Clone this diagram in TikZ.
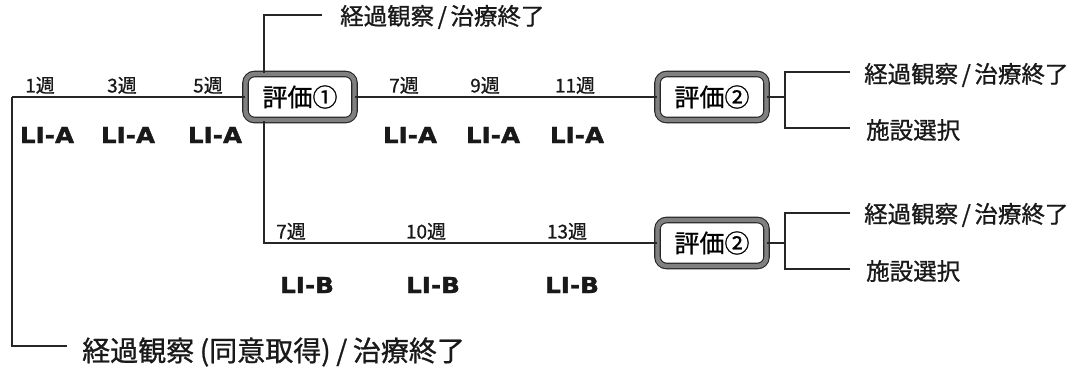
\documentclass[tikz,border=0pt]{standalone}
\usepackage{fontspec}
\newfontfamily\jp{Noto Sans CJK JP}[FakeBold=0.9]
\newfontfamily\lifont{DejaVu Sans}[FakeStretch=1.12,FakeBold=1.5]
\newcommand{\gap}{\kern0.15em}
\begin{document}
\begin{tikzpicture}[x=1pt,y=-1pt,
  line/.style={draw=black!85,line width=1.7pt},
  evalbox/.style={draw=black!85,double=black!50,double distance=4.4pt,line width=1.1pt,
     rounded corners=9pt,fill=white,minimum width=109pt,minimum height=46pt,inner sep=0pt,
     font=\jp\fontsize{25}{25}\selectfont},
  outtext/.style={anchor=west,inner sep=0pt,font=\jp\fontsize{23.5}{24}\selectfont,text=black!90},
  wk/.style={anchor=south,inner sep=0pt,font=\jp\fontsize{19}{19}\selectfont,text=black!90},
  li/.style={inner sep=0pt,font=\lifont\bfseries\fontsize{22}{22}\selectfont,text=black!90}]
\useasboundingbox (0,0) rectangle (1079,368);
% boxes
\node[evalbox] (e1) at (300,97) {評価①};
\node[evalbox] (e2) at (712,97) {評価②};
\node[evalbox] (e3) at (712,243) {評価②};
% coordinates
\coordinate (start) at (12,97);
\coordinate (bot) at (12,346);
\coordinate (botend) at (67,346);
\coordinate (top) at (264,15);
\coordinate (topend) at (322,15);
\coordinate (low) at (264,243);
\coordinate (b2) at (785,97);
\coordinate (b2t) at (785,72);
\coordinate (b2b) at (785,128);
\coordinate (b2te) at (850,72);
\coordinate (b2be) at (850,128);
\coordinate (b3) at (785,243);
\coordinate (b3t) at (785,213);
\coordinate (b3b) at (785,269);
\coordinate (b3te) at (850,213);
\coordinate (b3be) at (850,269);
% connectors
\draw[line] (start) -- (e1.west);
\draw[line] (start) -- (bot) -- (botend);
\draw[line] (e1.east) -- (e2.west);
\draw[line] (topend) -- (top) -- (top |- e1.north);
\draw[line] (top |- e1.south) -- (low) -- (e3.west);
\draw[line] (e2.east) -- (b2);
\draw[line] (b2te) -- (b2t) -- (b2b) -- (b2be);
\draw[line] (e3.east) -- (b3);
\draw[line] (b3te) -- (b3t) -- (b3b) -- (b3be);
% outcome texts
\node[outtext] (o0) at (340,17) {経過観察\gap/\gap 治療終了};
\node[outtext] (o1) at (864,75) {経過観察\gap/\gap 治療終了};
\node[outtext] (o2) at (866,130) {施設選択};
\node[outtext] (o3) at (864,215) {経過観察\gap/\gap 治療終了};
\node[outtext] (o4) at (866,271) {施設選択};
\node[outtext,font=\jp\fontsize{28}{28}\selectfont] (o5) at (82,352)
  {経過観察\kern0.2em(同意取得)\kern0.2em/\kern0.2em 治療終了};
% weeks
\node[wk] (w1) at (40,94) {1週};
\node[wk] (w3) at (122,94) {3週};
\node[wk] (w5) at (208,94) {5週};
\node[wk] (w7a) at (404,94) {7週};
\node[wk] (w9a) at (485,94) {9週};
\node[wk] (w11a) at (575,94) {11週};
\node[wk] (w7b) at (291,240) {7週};
\node[wk] (w10b) at (426,240) {10週};
\node[wk] (w13b) at (567,240) {13週};
% regimens
\node[li] (l1) at (47,135) {LI-A};
\node[li] (l2) at (128,135) {LI-A};
\node[li] (l3) at (215,135) {LI-A};
\node[li] (l4) at (410,135) {LI-A};
\node[li] (l5) at (493,135) {LI-A};
\node[li] (l6) at (577,135) {LI-A};
\node[li] (l7) at (307,285) {LI-B};
\node[li] (l8) at (433,285) {LI-B};
\node[li] (l9) at (572,285) {LI-B};
\end{tikzpicture}
\end{document}
